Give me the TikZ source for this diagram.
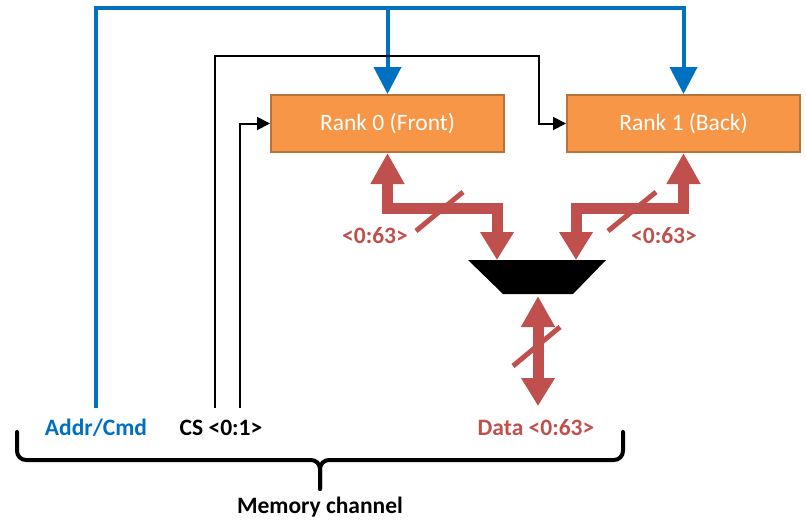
\documentclass[tikz,border=0pt]{standalone}
\usepackage{fontspec}
\setmainfont{Carlito}
\usetikzlibrary{arrows.meta}
\definecolor{cblue}{HTML}{0070C0}
\definecolor{cred}{HTML}{C0504D}
\definecolor{corange}{HTML}{F79646}
\definecolor{cborder}{HTML}{B7743A}
\begin{document}
\begin{tikzpicture}[x=1pt,y=-1pt,
  rank/.style={draw=cborder, line width=2pt, fill=corange, minimum width=233pt, minimum height=57pt, inner sep=0pt, text=white, font=\fontsize{23.5}{28}\selectfont},
  lbl/.style={inner sep=0pt, font=\fontsize{23.5}{28}\selectfont\bfseries},
  bluewire/.style={draw=cblue, line width=4pt, -{Triangle[width=27pt,length=27pt]}},
  cswire/.style={draw=black, line width=2pt, -{Triangle[width=13pt,length=13pt]}},
  redbus/.style={draw=cred, line width=11pt, {Triangle[width=32pt,length=31pt]}-{Triangle[width=32pt,length=28pt]}},
  slash/.style={draw=cred, line width=5pt},
  bracepath/.style={draw=black, line width=4pt, rounded corners=9pt, line cap=round}]
\useasboundingbox (0,0) rectangle (806,522);
% rank boxes
\node[rank] (r0) at (387.5,123.5) {Rank 0 (Front)};
\node[rank] (r1) at (683.5,123.5) {Rank 1 (Back)};
% mux
\coordinate (muxL) at (497,260);
\coordinate (muxR) at (576,260);
\coordinate (muxB) at (538,296);
\fill[black] (468,260) -- (606,260) -- (573,294) -- (503,294) -- cycle;
% labels
\node[lbl, text=cblue] (addr) at (96,428) {Addr/Cmd};
\node[lbl, text=black] (cs) at (221,428) {CS <0:1>};
\node[lbl, text=cred] (data) at (536,428) {Data <0:63>};
\node[lbl, text=cred] (w0) at (375,236) {<0:63>};
\node[lbl, text=cred] (w1) at (664,236) {<0:63>};
\node[lbl, text=black] (mem) at (320,507) {Memory channel};
% free ends
\coordinate (addrTop) at (96,408);
\coordinate (cs0) at (215,408);
\coordinate (cs1) at (240,408);
\coordinate (dataTip) at (538,406);
% address / command bus
\draw[bluewire] (addrTop) |- (r1.north |- 0,8) -- (r1.north);
\draw[bluewire] (r0.north |- 0,8) -- (r0.north);
% chip selects
\draw[cswire] (cs0) |- (539,56) |- (r1.west);
\draw[cswire] (cs1) |- (r0.west);
% data buses
\draw[redbus] (r0.south) |- (497,208) -- (muxL);
\draw[redbus] (r1.south) |- (576,208) -- (muxR);
\draw[redbus] (muxB) -- (dataTip);
% width slashes
\draw[slash] (416,231) -- (463,192);
\draw[slash] (608,231) -- (656,192);
\draw[slash] (513,366) -- (560,327);
% brace
\draw[bracepath] (17,432) -- (17,460) -- (320,460) -- (320,489);
\draw[bracepath] (623,432) -- (623,460) -- (320,460) -- (320,489);
\end{tikzpicture}
\end{document}
